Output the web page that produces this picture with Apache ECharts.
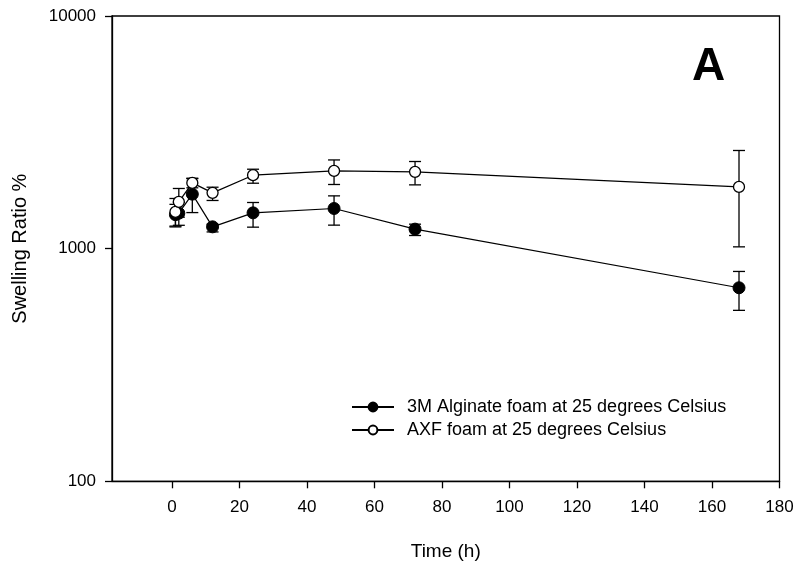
<!DOCTYPE html>
<html>
<head>
<meta charset="utf-8">
<script src="https://cdn.jsdelivr.net/npm/echarts@6/dist/echarts.min.js"></script>
<style>html,body{margin:0;padding:0;background:#fff;}#c{width:794px;height:563px;}</style>
</head>
<body>
<div id="c"></div>
<script>
const times = [1, 2, 6, 12, 24, 48, 72, 168];
const algName = '3M Alginate foam at 25 degrees Celsius';
const algMean = [1400, 1420, 1715, 1241, 1425, 1488, 1213, 679];
const algLow  = [1250, 1260, 1429, 1180, 1237, 1262, 1139, 543];
const algHigh = [1550, 1580, 2000, 1274, 1579, 1686, 1274, 798];
const axfName = 'AXF foam at 25 degrees Celsius';
const axfMean = [1439, 1589, 1917, 1737, 2069, 2159, 2138, 1843];
const axfLow  = [1240, 1365, 1826, 1611, 1911, 1887, 1880, 1018];
const axfHigh = [1643, 1814, 2008, 1837, 2195, 2406, 2369, 2642];
const xTicks = [0, 20, 40, 60, 80, 100, 120, 140, 160, 180];

const FONT = 'Liberation Sans, Arial, sans-serif';
const chart = echarts.init(document.getElementById('c'), null, {renderer: 'canvas'});

function pts(xs, ys) { return xs.map((x, i) => [x, ys[i]]); }
function errData(xs, lo, hi) { return xs.map((x, i) => [x, lo[i], hi[i]]); }

function errSeries(xs, lo, hi, z) {
  return {
    type: 'custom',
    z: z,
    silent: true,
    data: errData(xs, lo, hi),
    encode: {x: 0, y: [1, 2]},
    renderItem: function (params, api) {
      const x = api.value(0);
      const p1 = api.coord([x, api.value(1)]);
      const p2 = api.coord([x, api.value(2)]);
      const w = 6;
      const st = {stroke: '#000', lineWidth: 1.3};
      return {
        type: 'group',
        children: [
          {type: 'line', shape: {x1: p1[0], y1: p1[1], x2: p2[0], y2: p2[1]}, style: st},
          {type: 'line', shape: {x1: p1[0] - w, y1: p1[1], x2: p1[0] + w, y2: p1[1]}, style: st},
          {type: 'line', shape: {x1: p2[0] - w, y1: p2[1], x2: p2[0] + w, y2: p2[1]}, style: st}
        ]
      };
    }
  };
}

chart.setOption({
  animation: false,
  backgroundColor: '#fff',
  textStyle: {fontFamily: FONT, color: '#000'},
  grid: {left: 112, right: 14.5, top: 16, bottom: 81.7, show: true, borderColor: '#000', borderWidth: 1.3, containLabel: false, outerBoundsMode: 'none'},
  xAxis: {
    type: 'value',
    min: -17.8,
    max: 180,
    name: 'Time (h)',
    nameLocation: 'middle',
    nameGap: 61,
    nameTextStyle: {fontFamily: FONT, fontSize: 19, color: '#000'},
    axisLine: {show: true, onZero: false, lineStyle: {color: '#000', width: 1.3}},
    axisTick: {show: true, inside: false, length: 7, lineStyle: {color: '#000', width: 1.3}, customValues: xTicks},
    axisLabel: {fontFamily: FONT, fontSize: 17, color: '#000', margin: 18, customValues: xTicks},
    splitLine: {show: false}
  },
  yAxis: {
    type: 'log',
    logBase: 10,
    min: 100,
    max: 10000,
    name: 'Swelling Ratio %',
    nameLocation: 'middle',
    nameGap: 82,
    nameRotate: 90,
    nameTextStyle: {fontFamily: FONT, fontSize: 20, color: '#000'},
    axisLine: {show: true, onZero: false, lineStyle: {color: '#000', width: 1.3}},
    axisTick: {show: true, inside: false, length: 7, lineStyle: {color: '#000', width: 1.3}},
    minorTick: {show: false},
    axisLabel: {fontFamily: FONT, fontSize: 17, color: '#000', margin: 16, formatter: function (v) { return String(Math.round(v)); }},
    splitLine: {show: false}
  },
  legend: {
    left: 346,
    top: 393,
    orient: 'vertical',
    itemWidth: 42,
    itemHeight: 11,
    itemGap: 5,
    data: [algName, axfName],
    textStyle: {fontFamily: FONT, fontSize: 18, color: '#000', padding: [0, 0, 0, 8]}
  },
  graphic: [{
    type: 'text',
    left: 692,
    top: 44,
    style: {text: 'A', font: 'bold 46px ' + FONT, fill: '#000'}
  }],
  series: [
    errSeries(times, algLow, algHigh, 2),
    {
      name: algName,
      type: 'line',
      z: 3,
      data: pts(times, algMean),
      symbol: 'circle',
      symbolSize: 12,
      showAllSymbol: true,
      lineStyle: {color: '#000', width: 1.2},
      itemStyle: {color: '#000', borderColor: '#000', borderWidth: 1}
    },
    errSeries(times, axfLow, axfHigh, 4),
    {
      name: axfName,
      type: 'line',
      z: 5,
      data: pts(times, axfMean),
      symbol: 'circle',
      symbolSize: 11,
      showAllSymbol: true,
      lineStyle: {color: '#000', width: 1.2},
      itemStyle: {color: '#fff', borderColor: '#000', borderWidth: 1.3}
    }
  ]
});
</script>
</body>
</html>
